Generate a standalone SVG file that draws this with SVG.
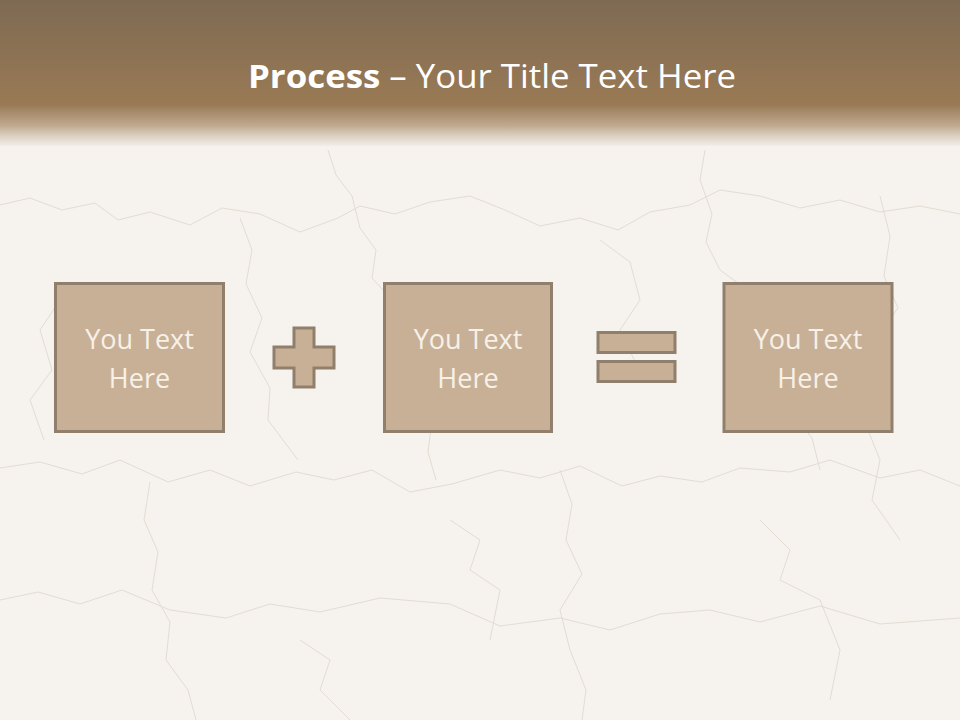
<svg xmlns="http://www.w3.org/2000/svg" width="960" height="720" viewBox="0 0 960 720">
<defs>
<linearGradient id="hdr" x1="0" y1="0" x2="0" y2="1">
<stop offset="0" stop-color="#7e6a53"/>
<stop offset="0.45" stop-color="#8f7454"/>
<stop offset="0.72" stop-color="#9a7a55"/>
<stop offset="0.86" stop-color="#b9a184" stop-opacity="0.9"/>
<stop offset="1" stop-color="#f0ebe5" stop-opacity="0.7"/>
</linearGradient>
<style>
.box{fill:#c8b096;stroke:#8f7f6c;stroke-width:3}
.sym{fill:#c8b096;stroke:#8f7f6c;stroke-width:3}
.lbl{font-family:"Open Sans","Liberation Sans",sans-serif;font-size:27px;fill:#f7f1e8;text-anchor:middle}
.crack{fill:none;stroke:#e3dcd3;stroke-width:1;stroke-linejoin:round}
</style>
</defs>
<rect width="960" height="720" fill="#f6f2ed"/>
<g id="cracks">
<polyline class="crack" points="0,205 30,198 62,210 95,203 118,220 150,212 190,225 222,208 260,214 300,232 338,218 360,206 395,214 430,202 470,196 505,210 540,226 580,218 618,230 650,212 690,205 720,190 760,196 800,208 840,200 880,212 920,206 960,214"/>
<polyline class="crack" points="328,150 336,175 352,196 360,228 376,250 372,278 392,300 404,330 420,352 418,390 432,420 428,452 436,480"/>
<polyline class="crack" points="705,150 700,180 712,214 706,242 720,270 742,286 760,320 756,352 772,380 790,410 812,438 820,470"/>
<polyline class="crack" points="0,468 40,462 82,474 120,460 168,482 210,470 250,486 296,472 334,480 372,470 410,492 452,484 500,470 540,478 580,466 622,486 660,476 702,482 740,468 790,472 830,460 880,478 920,470 960,486"/>
<polyline class="crack" points="150,482 144,520 158,552 152,590 170,622 166,660 188,690 196,720"/>
<polyline class="crack" points="560,470 572,504 566,540 582,574 560,610 570,650 586,690 582,720"/>
<polyline class="crack" points="0,600 38,592 80,604 122,590 170,610 226,618 270,604 320,612 380,598 450,604 500,626 560,618 610,630 660,614 710,610 760,622 820,606 880,624 960,618"/>
<polyline class="crack" points="880,196 890,236 884,276 898,308 872,344 876,382 864,420 880,460 872,500 900,540"/>
<polyline class="crack" points="240,218 252,250 246,284 262,318 250,352 270,388 268,420 298,460"/>
<polyline class="crack" points="600,240 630,262 640,300 620,330 640,372"/>
<polyline class="crack" points="60,300 40,330 52,370 30,400 44,440"/>
<polyline class="crack" points="450,520 480,540 470,570 500,590 490,640"/>
<polyline class="crack" points="760,520 790,550 780,580 820,600 840,650 830,700"/>
<polyline class="crack" points="300,640 330,660 320,690 350,720"/>
</g>
<rect width="960" height="146" fill="url(#hdr)"/>
<text x="492" y="88" font-family="'Open Sans','Liberation Sans',sans-serif" font-size="32" fill="#ffffff" text-anchor="middle" textLength="488" lengthAdjust="spacingAndGlyphs"><tspan font-weight="bold">Process</tspan> – Your Title Text Here</text>
<g id="node1">
<rect class="box" x="55.5" y="283.5" width="168" height="148"/>
<text class="lbl" x="139.5" y="349">You Text</text>
<text class="lbl" x="139.5" y="388">Here</text>
</g>
<g id="node2">
<rect class="box" x="384.5" y="283.5" width="167" height="148"/>
<text class="lbl" x="468" y="349">You Text</text>
<text class="lbl" x="468" y="388">Here</text>
</g>
<g id="node3">
<rect class="box" x="724" y="283.5" width="168" height="148"/>
<text class="lbl" x="808" y="349">You Text</text>
<text class="lbl" x="808" y="388">Here</text>
</g>
<g id="plus">
<path class="sym" d="M294 328 H314 V347 H334 V368 H314 V387 H294 V368 H274 V347 H294 Z"/>
</g>
<g id="equals">
<rect class="sym" x="598" y="332.5" width="77" height="20"/>
<rect class="sym" x="598" y="361.5" width="77" height="20"/>
</g>
</svg>
